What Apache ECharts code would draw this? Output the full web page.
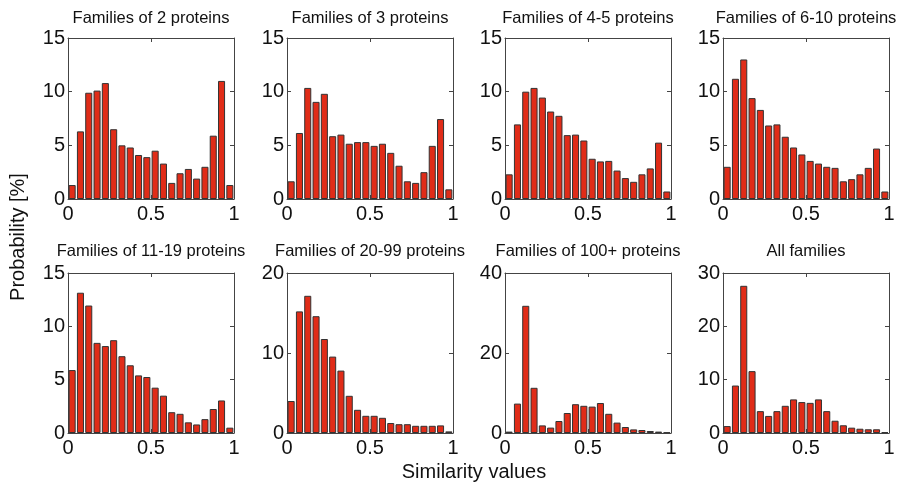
<!DOCTYPE html>
<html><head><meta charset="utf-8">
<script src="https://cdn.jsdelivr.net/npm/echarts@6/dist/echarts.min.js"></script>
<style>html,body{margin:0;padding:0;background:#fff}#c{width:897px;height:486px}</style>
</head><body><div id="c"></div>
<script>
// Histogram bins (width 0.05 from 0 to 1)
const bins = ['0.00','0.05','0.10','0.15','0.20','0.25','0.30','0.35','0.40','0.45',
              '0.50','0.55','0.60','0.65','0.70','0.75','0.80','0.85','0.90','0.95'];
const titles = ['Families of 2 proteins','Families of 3 proteins','Families of 4-5 proteins','Families of 6-10 proteins',
                'Families of 11-19 proteins','Families of 20-99 proteins','Families of 100+ proteins','All families'];
const fam2    = [1.3, 6.3, 9.9, 10.1, 10.8, 6.5, 5.0, 4.8, 4.1, 3.9, 4.5, 3.3, 1.5, 2.4, 2.8, 1.9, 3.0, 5.9, 11.0, 1.3];
const fam3    = [1.65, 6.15, 10.35, 9.05, 9.8, 5.85, 6.0, 5.15, 5.3, 5.3, 4.95, 5.15, 4.3, 3.1, 1.65, 1.5, 2.5, 4.95, 7.45, 0.9];
const fam4_5  = [2.3, 6.95, 10.0, 10.35, 9.45, 8.15, 7.75, 5.95, 6.0, 5.45, 3.75, 3.5, 3.55, 2.65, 1.95, 1.6, 2.3, 2.85, 5.25, 0.7];
const fam6_10 = [3.0, 11.2, 13.0, 9.4, 8.3, 6.85, 6.95, 5.8, 4.8, 4.15, 3.55, 3.3, 3.0, 2.9, 1.65, 1.85, 2.3, 2.9, 4.7, 0.7];
const fam11_19= [5.9, 13.15, 11.95, 8.45, 8.15, 8.7, 7.2, 6.35, 5.4, 5.25, 4.25, 3.5, 1.95, 1.8, 1.0, 0.8, 1.3, 2.25, 3.05, 0.5];
const fam20_99= [4.0, 15.2, 17.15, 14.6, 11.75, 9.55, 7.8, 4.65, 2.9, 2.15, 2.15, 1.9, 1.25, 1.1, 1.1, 0.9, 0.9, 0.9, 0.95, 0.2];
const fam100  = [0.35, 7.35, 31.8, 11.3, 1.9, 1.35, 3.0, 5.0, 7.2, 6.8, 6.6, 7.5, 4.8, 2.6, 1.5, 0.9, 0.75, 0.5, 0.35, 0.15];
const famAll  = [1.3, 8.9, 27.6, 11.6, 4.1, 3.2, 4.1, 5.1, 6.3, 5.8, 5.65, 6.3, 4.1, 2.3, 1.45, 1.0, 0.8, 0.7, 0.7, 0.15];
const seriesData = [fam2, fam3, fam4_5, fam6_10, fam11_19, fam20_99, fam100, famAll];
const yMax  = [15, 15, 15, 15, 15, 20, 40, 30];
const yStep = [5, 5, 5, 5, 5, 10, 20, 10];
const xMin = 0, xMax = 1, xStep = 0.5;

const FONT = 'Liberation Sans, Arial, sans-serif';
const lefts = [68, 287, 505, 723];
const W = 166;
const rowTop = [38, 273];
const rowH = [161, 160];
const lineC = '#444';

const grid = [], xAxis = [], yAxis = [], series = [], graphic = [];
for (let i = 0; i < 8; i++) {
  const r = i < 4 ? 0 : 1, c = i % 4;
  grid.push({left: lefts[c], top: rowTop[r], width: W, height: rowH[r], containLabel: false, outerBoundsMode: 'none'});
  // hidden category axis that positions the bars in bins
  xAxis.push({type: 'category', gridIndex: i, data: bins, position: 'bottom', show: false, boundaryGap: true});
  const common = {
    type: 'value', gridIndex: i, min: xMin, max: xMax, interval: xStep,
    axisLine: {show: true, onZero: false, lineStyle: {color: lineC, width: 1}},
    axisTick: {show: true, inside: true, length: 4, lineStyle: {color: lineC}},
    splitLine: {show: false}
  };
  xAxis.push(Object.assign({}, common, {position: 'bottom',
    axisLabel: {show: true, fontFamily: FONT, fontSize: 20, color: '#111', margin: 5}}));
  xAxis.push(Object.assign({}, common, {position: 'top', axisLabel: {show: false}}));
  const ycommon = {
    type: 'value', gridIndex: i, min: 0, max: yMax[i], interval: yStep[i],
    axisLine: {show: true, onZero: false, lineStyle: {color: lineC, width: 1}},
    axisTick: {show: true, inside: true, length: 4, lineStyle: {color: lineC}},
    splitLine: {show: false}
  };
  yAxis.push(Object.assign({}, ycommon, {position: 'left',
    axisLabel: {show: true, fontFamily: FONT, fontSize: 20, color: '#111', margin: 3}}));
  yAxis.push(Object.assign({}, ycommon, {position: 'right', axisLabel: {show: false}}));
  series.push({
    type: 'bar', xAxisIndex: i * 3, yAxisIndex: i * 2, data: seriesData[i],
    barWidth: '85%', silent: true,
    itemStyle: {color: '#e02c18', borderColor: '#333', borderWidth: 1}
  });
  graphic.push({type: 'text', x: lefts[c] + W / 2, y: r ? 251 : 18,
    style: {text: titles[i], fontFamily: FONT, fontSize: 16.5, fill: '#111', align: 'center', verticalAlign: 'middle'}});
}
graphic.push({type: 'text', x: 474, y: 472,
  style: {text: 'Similarity values', fontFamily: FONT, fontSize: 20, fill: '#111', align: 'center', verticalAlign: 'middle'}});
graphic.push({type: 'text', x: 18, y: 237, rotation: Math.PI / 2,
  style: {text: 'Probability [%]', fontFamily: FONT, fontSize: 20, fill: '#111', align: 'center', verticalAlign: 'middle'}});

const chart = echarts.init(document.getElementById('c'), null, {renderer: 'canvas'});
chart.setOption({animation: false, backgroundColor: '#fff', grid, xAxis, yAxis, series, graphic});
</script>
</body></html>
